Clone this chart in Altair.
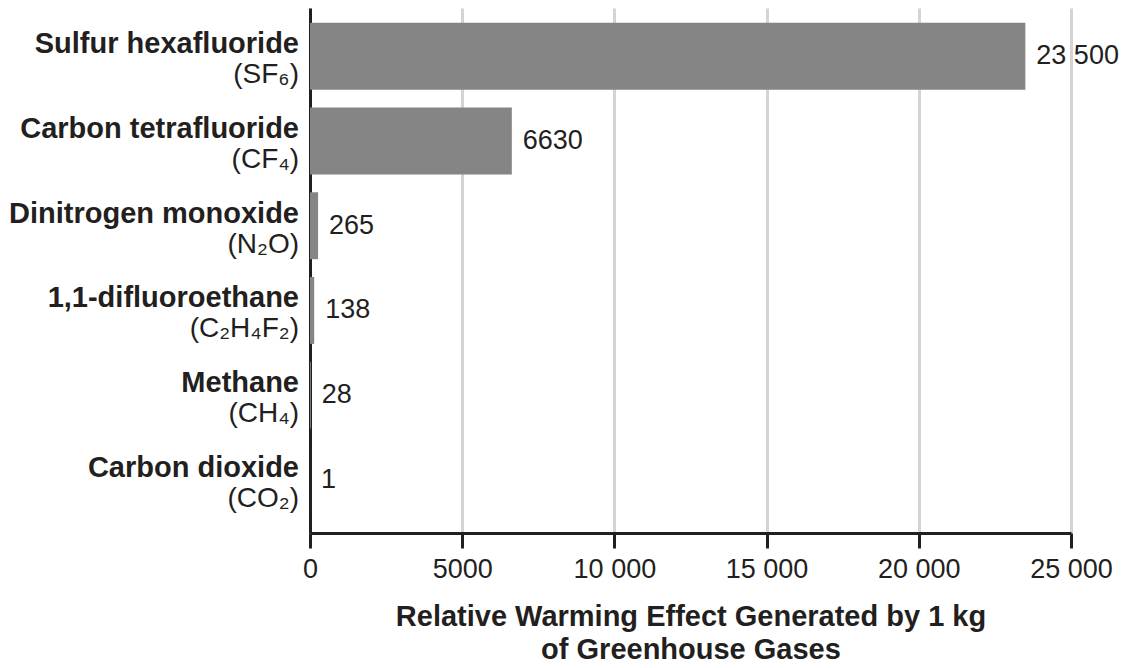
import altair as alt
import pandas as pd

names = ["Sulfur hexafluoride", "Carbon tetrafluoride", "Dinitrogen monoxide",
         "1,1-difluoroethane", "Methane", "Carbon dioxide"]
formulas = ["(SF\u2086)", "(CF\u2084)", "(N\u2082O)", "(C\u2082H\u2084F\u2082)", "(CH\u2084)", "(CO\u2082)"]
values = [23500, 6630, 265, 138, 28, 1]
value_labels = ["23 500", "6630", "265", "138", "28", "1"]
tick_values = [0, 5000, 10000, 15000, 20000, 25000]

FONT = "Liberation Sans"
INK = "#231f20"

df = pd.DataFrame({"name": names, "formula": formulas, "value": values, "vlabel": value_labels})

y = alt.Y("name:N", sort=names,
          scale=alt.Scale(paddingInner=0.21, paddingOuter=0.204, align=0.43),
          axis=alt.Axis(labels=False, ticks=False, title=None, grid=False,
                        domain=True, domainColor=INK, domainWidth=3))

x = alt.X("value:Q", scale=alt.Scale(domain=[0, 25000], nice=False),
          axis=alt.Axis(values=tick_values,
                        labelExpr="datum.value >= 10000 ? replace(format(datum.value, ','), ',', ' ') : format(datum.value, 'd')",
                        title=["Relative Warming Effect Generated by 1 kg", "of Greenhouse Gases"],
                        titleFontSize=29, titleFontWeight="bold", titleFont=FONT, titleColor=INK,
                        titleLineHeight=33, titlePadding=20,
                        labelFontSize=27, labelFont=FONT, labelColor=INK, labelPadding=8,
                        labelFlush=False, labelOverlap=False,
                        tickSize=15, tickWidth=3, tickColor=INK,
                        domainColor=INK, domainWidth=3,
                        grid=True, gridColor="#d4d4d4", gridWidth=3))

base = alt.Chart(df).encode(y=y)

bars = base.mark_bar(color="#858585").encode(x=x)

vtext = base.mark_text(align="left", baseline="middle", dx=11, fontSize=27, font=FONT,
                       color=INK).encode(x=alt.X("value:Q"), text="vlabel:N")

ntext = base.mark_text(align="right", baseline="alphabetic", dy=-3, fontSize=29, font=FONT,
                       fontWeight="bold", color=INK).encode(x=alt.value(-11), text="name:N")

ftext = base.mark_text(align="right", baseline="alphabetic", dy=27, fontSize=28, font=FONT,
                       color=INK).encode(x=alt.value(-11), text="formula:N")

chart = alt.layer(bars, vtext, ntext, ftext).properties(
    width=761, height=525,
    autosize=alt.AutoSizeParams(type="none"),
    padding={"left": 302, "top": 0, "right": 55, "bottom": 130},
).configure_view(stroke=None)

chart.save("out.html", embed_options={"renderer": "svg", "actions": False})
